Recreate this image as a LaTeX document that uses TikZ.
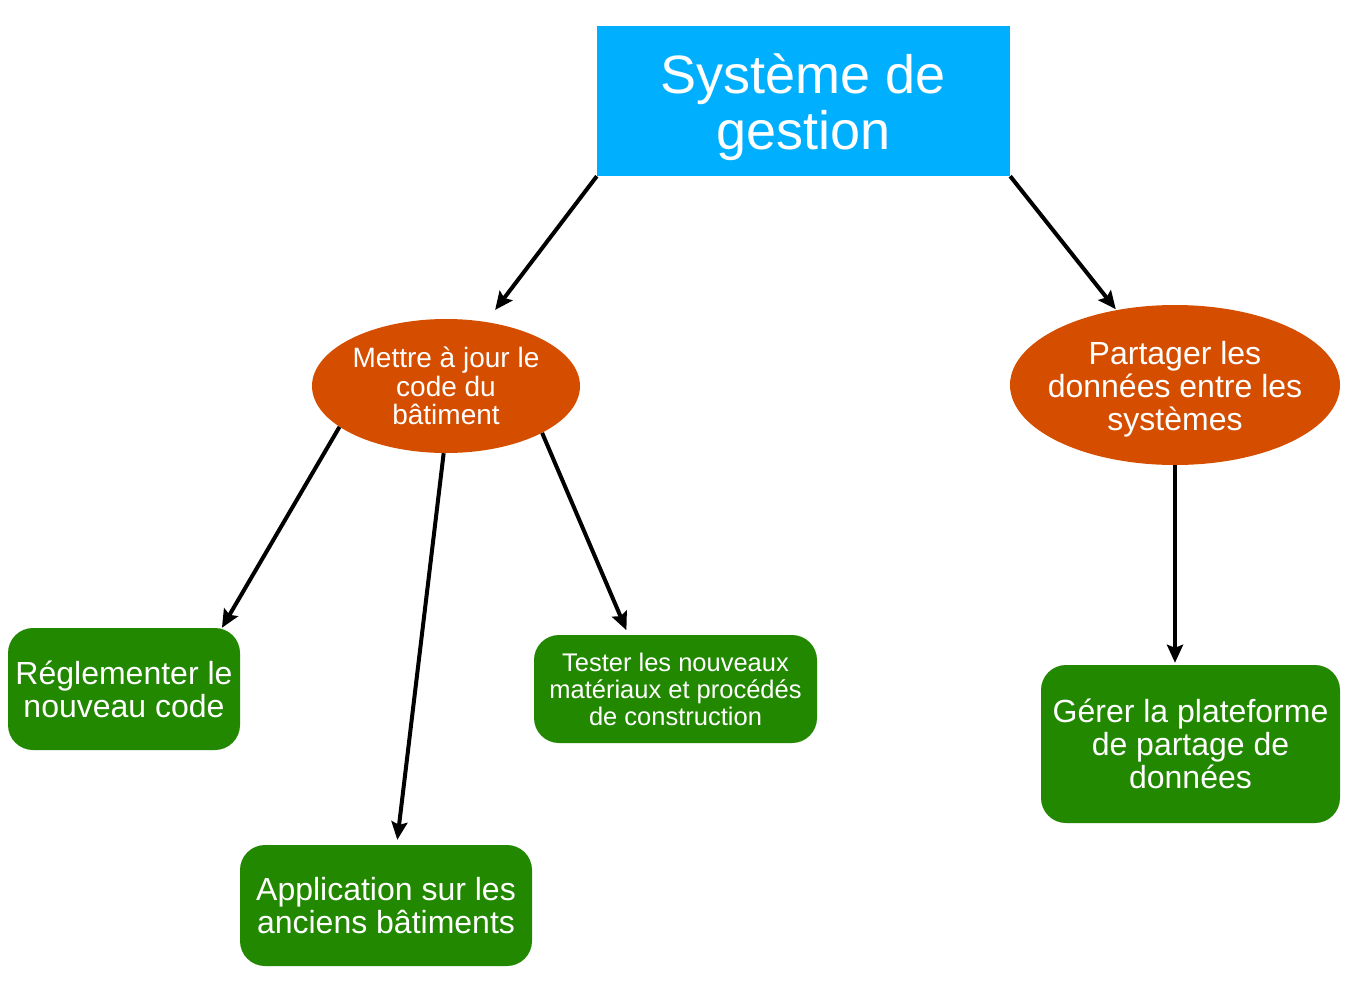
\documentclass[tikz,border=0pt]{standalone}
\usepackage{fontspec}
\setmainfont{Liberation Sans}
\usetikzlibrary{shapes.geometric,arrows.meta}
\definecolor{bleuSys}{RGB}{0,176,255}
\definecolor{orangeTache}{RGB}{213,78,0}
\definecolor{vertAction}{RGB}{34,136,0}

\begin{document}
\begin{tikzpicture}[x=1pt,y=-1pt]
  \tikzset{titre style/.style = {fill=bleuSys, minimum width=413pt, minimum height=150pt, inner sep=0pt},
    bulle style/.style = {ellipse, fill=orangeTache, inner sep=0pt},
    texte style/.style = {text=white, align=center, inner sep=0pt},
    action style/.style = {rounded corners=25pt, fill=vertAction, inner sep=0pt, text=white, align=center, font=\fontsize{32}{33}\selectfont},
    fleche/.style = {line width=4pt, -{Stealth[length=18pt,width=16pt,inset=3pt]}}}
  \useasboundingbox (0,0) rectangle (1349,980);
  \node[titre style] (sys) at (803.5,101) {};
  \node[texte style, font=\fontsize{54}{56}\selectfont] (sysTxt) at ([yshift=-6pt]sys.center) {Système de\\gestion};
  \node[bulle style, minimum width=268pt, minimum height=134pt] (maj) at (446,386) {};
  \node[texte style, font=\fontsize{28}{28.5}\selectfont] (majTxt) at (maj) {Mettre à jour le\\code du\\bâtiment};
  \node[bulle style, minimum width=330pt, minimum height=160pt] (part) at (1175,385) {};
  \node[texte style, font=\fontsize{32}{33}\selectfont] (partTxt) at ([yshift=-4pt]part.center) {Partager les\\données entre les\\systèmes};
  \node[action style, minimum width=232pt, minimum height=122pt] (regl) at (124,689) {Réglementer le\\nouveau code};
  \node[action style, minimum width=292pt, minimum height=121pt] (appl) at (386,905.5) {Application sur les\\anciens bâtiments};
  \node[action style, minimum width=283pt, minimum height=108pt, font=\fontsize{25.5}{27}\selectfont] (tester) at (675.5,689) {Tester les nouveaux\\matériaux et procédés\\de construction};
  \node[action style, minimum width=299pt, minimum height=158pt] (gerer) at (1190.5,744) {Gérer la plateforme\\de partage de\\données};

  \draw[fleche, shorten >=15pt] (sys.south west) -- (maj.58);
  \draw[fleche, shorten >=1pt] (sys.south east) -- (part.128);
  \draw[fleche] (maj.201) -- (regl.32);
  \draw[fleche, shorten >=5pt] (maj.268) -- (appl.80);
  \draw[fleche, shorten >=5pt] (maj.334) -- (tester.131);
  \draw[fleche, shorten >=2pt] (part.south) -- (part.south |- gerer.north);
\end{tikzpicture}
\end{document}
